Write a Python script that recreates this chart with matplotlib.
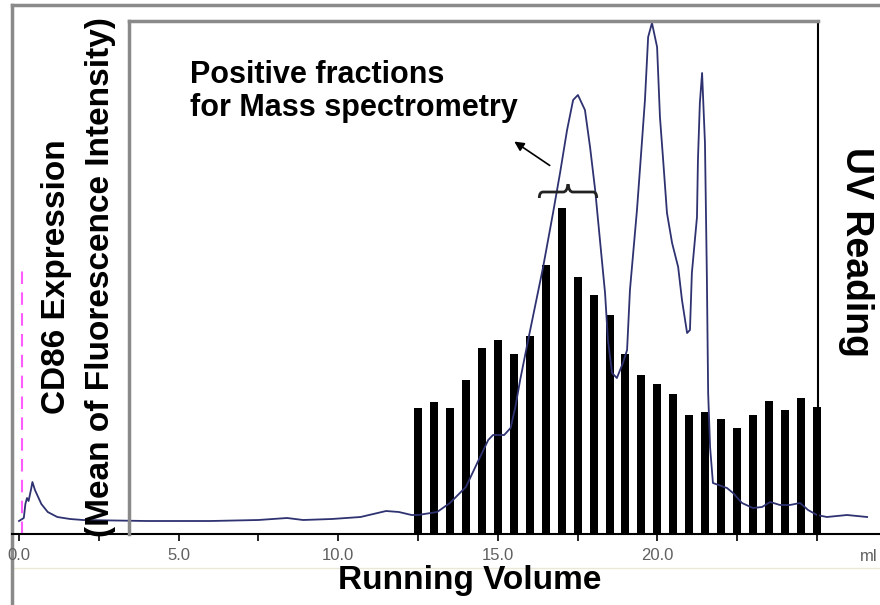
import matplotlib
matplotlib.use("Agg")
import matplotlib.pyplot as plt
import numpy as np
from matplotlib.path import Path
from matplotlib.patches import PathPatch
import matplotlib.transforms as mtransforms

plt.rcParams['font.family'] = ['Liberation Sans', 'DejaVu Sans']

# UV trace (running volume in ml, UV reading in arbitrary units)
uv_vol = [0.0, 0.15, 0.2, 0.25, 0.3, 0.38, 0.42, 0.5, 0.7, 0.9, 1.2, 1.6, 2.0,
          4.0, 6.0, 7.5, 8.4, 8.9, 9.8, 10.7, 11.1, 11.5, 11.9, 12.3,
          12.5, 13.1, 13.5, 14.0, 14.4, 14.7, 14.85, 15.2, 15.4, 15.55, 15.7,
          15.97, 16.42, 16.73, 16.95, 17.17, 17.36, 17.51, 17.73, 17.89, 18.05,
          18.2, 18.36, 18.45, 18.58, 18.73, 18.92, 19.05, 19.14, 19.36, 19.52,
          19.61, 19.71, 19.83, 19.99, 20.08, 20.18, 20.3, 20.46, 20.65, 20.77,
          20.93, 21.02, 21.08, 21.24, 21.27, 21.33, 21.4, 21.49, 21.55, 21.59,
          21.65, 21.74, 22.18, 22.37, 22.65, 22.99, 23.28, 23.53, 23.84, 24.15,
          24.47, 24.72, 25.0, 25.31, 25.94, 26.57]
uv_abs = [13, 16, 30, 36, 33, 45, 52, 44, 30, 22, 17, 15, 14,
          13, 13, 14, 16, 14, 15, 17, 20, 23, 22, 19,
          19, 22, 31, 47, 74, 94, 99, 99, 106, 127, 154,
          197, 267, 321, 361, 404, 434, 439, 424, 387, 344,
          294, 241, 194, 161, 156, 171, 184, 244, 324, 394,
          434, 497, 511, 487, 417, 374, 321, 291, 267, 234,
          201, 204, 261, 317, 374, 431, 461, 391, 257, 141,
          87, 51, 46, 41, 31, 26, 27, 32, 29, 29,
          31, 24, 19, 17, 19, 17]

# CD86 expression per fraction (mean fluorescence intensity, arbitrary)
frac_vol = np.arange(12.5, 25.01, 0.5)
cd86_mfi = [126, 132, 126, 154, 186, 194, 180, 198, 269, 326, 257, 239, 219,
            180, 159, 150, 140, 119, 122, 115, 106, 119, 133, 124, 136, 127]

tick_pos = np.arange(0, 25.01, 2.5)
tick_lab = ['0.0', '', '5.0', '', '10.0', '', '15.0', '', '20.0', '', '']

injection_vol = 0.1
injection_top = 269
brace_range = (16.3, 18.1)

W, H = 880, 605
fig = plt.figure(figsize=(8.8, 6.05), dpi=100)

# outer frame
frame = fig.add_axes([12 / W, 0, 1, 600 / H])
frame.set_xticks([]); frame.set_yticks([])
for s in ['right', 'bottom']:
    frame.spines[s].set_visible(False)
for s in ['left', 'top']:
    frame.spines[s].set_color('#8a8a8a')
    frame.spines[s].set_linewidth(2.5)

# faint separator line under tick labels
frame.axhline((600 - 563) / 600, color='#ece8d8', lw=1)

ax = fig.add_axes([12 / W, (H - 534) / H, 868 / W, 513 / H])
ax.set_xlim((12 - 19) / 31.92, (880 - 19) / 31.92)
ax.set_ylim(0, 513)
ax2 = ax.twinx()
ax2.set_ylim(0, 513)
ax2.bar(frac_vol, cd86_mfi, width=0.25, color='black')
ax.set_zorder(ax2.get_zorder() + 1)
ax.patch.set_visible(False)

ax.plot(uv_vol, uv_abs, color='#2e3270', lw=1.3)
ax.axvline(injection_vol, ymin=0, ymax=injection_top / 513, color='#ff5cff',
           lw=1.5, dashes=(6, 4))

for a in (ax, ax2):
    for s in ['left', 'right', 'top']:
        a.spines[s].set_visible(False)
ax2.spines['bottom'].set_visible(False)
ax.spines['bottom'].set_linewidth(1.5)
ax.set_yticks([])
ax2.set_yticks([])
ax.set_xticks(tick_pos)
ax.set_xticklabels(tick_lab, color='#606060', fontsize=12)
ax.tick_params(axis='x', direction='out', length=5, width=1.2, pad=5)
ax.text(0.997, -0.03, 'ml', transform=ax.transAxes, ha='right', va='top',
        color='#606060', fontsize=12)

# inner box around the fraction area
box = fig.add_axes([129 / W, (H - 534) / H, (818 - 129) / W, 513 / H])
box.patch.set_visible(False)
box.set_xticks([]); box.set_yticks([])
box.spines['bottom'].set_visible(False)
box.spines['left'].set_color('#8a8a8a'); box.spines['left'].set_linewidth(2.5)
box.spines['top'].set_color('#8a8a8a'); box.spines['top'].set_linewidth(2.5)
box.spines['right'].set_color('black'); box.spines['right'].set_linewidth(1.5)
box.set_zorder(ax.get_zorder() + 1)

# brace over the positive fractions
trans = mtransforms.blended_transform_factory(ax.transData, ax.transAxes)
x0, x1 = brace_range
xm = (x0 + x1) / 2
yb = (534 - 192) / 513
d = 6 / 513
verts = [(x0, yb - d), (x0, yb), (x0 + 0.12, yb),
         (xm - 0.15, yb), (xm - 0.03, yb), (xm, yb + 1.3 * d),
         (xm + 0.03, yb), (xm + 0.15, yb),
         (x1 - 0.12, yb), (x1, yb), (x1, yb - d)]
codes = [Path.MOVETO, Path.CURVE3, Path.CURVE3,
         Path.LINETO, Path.CURVE3, Path.CURVE3,
         Path.CURVE3, Path.CURVE3,
         Path.LINETO, Path.CURVE3, Path.CURVE3]
ax.add_patch(PathPatch(Path(verts, codes), transform=trans, fill=False,
                       lw=2, edgecolor='#222222', zorder=5))

ax.annotate('', xy=((512 - 19) / 31.92, (534 - 140) / 513),
            xytext=((552 - 19) / 31.92, (534 - 167) / 513),
            xycoords=trans, textcoords=trans,
            arrowprops=dict(arrowstyle='-|>', color='black', lw=1.2,
                            mutation_scale=14))

bold = dict(fontweight='bold', color='black')
fig.text(190 / W, 1 - 60 / H, 'Positive fractions\nfor Mass spectrometry',
         ha='left', va='top', fontsize=22, linespacing=1.15, **bold)
fig.text(57 / W, 1 - 277 / H, 'CD86 Expression', rotation=90,
         ha='center', va='center', fontsize=24, **bold)
fig.text(100 / W, 1 - 277 / H, '(Mean of Fluorescence Intensity)', rotation=90,
         ha='center', va='center', fontsize=24, **bold)
fig.text(856 / W, 1 - 252 / H, 'UV Reading', rotation=-90,
         ha='center', va='center', fontsize=27, **bold)
fig.text(470 / W, 1 - 580 / H, 'Running Volume',
         ha='center', va='center', fontsize=24, **bold)

fig.savefig('out.png', dpi=100)
